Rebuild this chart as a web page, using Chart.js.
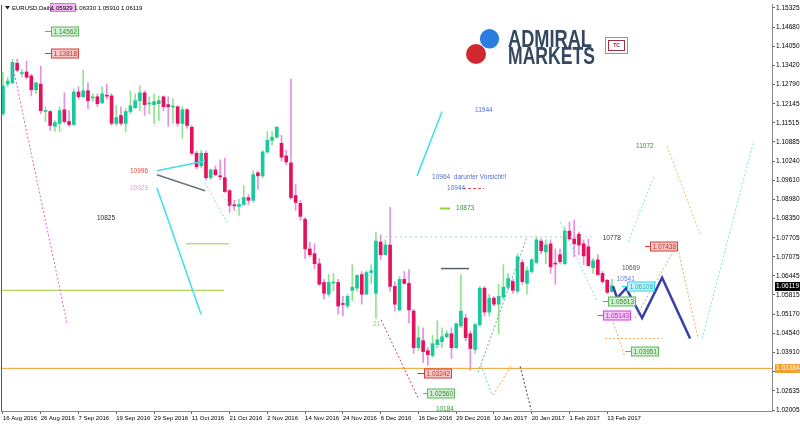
<!DOCTYPE html>
<html>
<head>
<meta charset="utf-8">
<script src="https://cdn.jsdelivr.net/npm/chart.js@4.4.1/dist/chart.umd.min.js"></script>
<style>
  html, body { margin: 0; padding: 0; background: #fff; }
  #c { display: block; }
</style>
</head>
<body>
<canvas id="c" width="800" height="426"></canvas>
<script>
// EURUSD daily, 16 Aug 2016 .. mid Feb 2017 (one entry per trading day)
const opens = [
  1.1182, 1.1280, 1.1284, 1.1349, 1.1315, 1.1320, 1.1307, 1.1261, 1.1280, 1.1189,
  1.1189, 1.1140, 1.1150, 1.1195, 1.1156, 1.1146, 1.1254, 1.1238, 1.1258, 1.1234,
  1.1238, 1.1218, 1.1242, 1.1241, 1.1150, 1.1176, 1.1150, 1.1189, 1.1202, 1.1225,
  1.1251, 1.1214, 1.1212, 1.1215, 1.1238, 1.1212, 1.1204, 1.1205, 1.1150, 1.1195,
  1.1137, 1.1051, 1.1009, 1.1051, 1.0970, 1.0996, 1.0975, 1.0970, 1.0927, 1.0879,
  1.0875, 1.0881, 1.0904, 1.0895, 1.0986, 1.0976, 1.1055, 1.1094, 1.1104, 1.1084,
  1.1042, 1.1019, 1.0911, 1.0885, 1.0832, 1.0734, 1.0718, 1.0685, 1.0623, 1.0584,
  1.0621, 1.0623, 1.0552, 1.0545, 1.0597, 1.0604, 1.0649, 1.0584, 1.0656, 1.0587,
  1.0757, 1.0715, 1.0747, 1.0610, 1.0532, 1.0633, 1.0620, 1.0528, 1.0407, 1.0430,
  1.0397, 1.0381, 1.0417, 1.0427, 1.0443, 1.0453, 1.0407, 1.0479, 1.0505, 1.0453,
  1.0401, 1.0483, 1.0604, 1.0525, 1.0571, 1.0551, 1.0574, 1.0607, 1.0626, 1.0594,
  1.0689, 1.0620, 1.0659, 1.0689, 1.0760, 1.0724, 1.0751, 1.0687, 1.0715, 1.0685,
  1.0793, 1.0767, 1.0783, 1.0751, 1.0741, 1.0672, 1.0698, 1.0653, 1.0630, 1.05929
];
const highs = [
  1.1320, 1.1303, 1.1362, 1.1362, 1.1329, 1.1356, 1.1313, 1.1287, 1.1339, 1.1205,
  1.1192, 1.1159, 1.1205, 1.1251, 1.1192, 1.1264, 1.1271, 1.1326, 1.1284, 1.1248,
  1.1248, 1.1271, 1.1280, 1.1248, 1.1208, 1.1205, 1.1199, 1.1258, 1.1248, 1.1274,
  1.1258, 1.1238, 1.1248, 1.1241, 1.1241, 1.1238, 1.1231, 1.1208, 1.1205, 1.1199,
  1.1143, 1.1058, 1.1061, 1.1058, 1.0999, 1.1009, 1.1029, 1.1035, 1.0931, 1.0895,
  1.0898, 1.0944, 1.0914, 1.0993, 1.0993, 1.1061, 1.1123, 1.1123, 1.1140, 1.1110,
  1.1061, 1.1297, 1.0947, 1.0895, 1.0839, 1.0757, 1.0751, 1.0702, 1.0633, 1.0649,
  1.0653, 1.0633, 1.0577, 1.0584, 1.0682, 1.0649, 1.0659, 1.0662, 1.0682, 1.0790,
  1.0780, 1.0764, 1.0872, 1.0626, 1.0643, 1.0659, 1.0666, 1.0535, 1.0479, 1.0473,
  1.0407, 1.0447, 1.0496, 1.0473, 1.0463, 1.0473, 1.0489, 1.0649, 1.0518, 1.0463,
  1.0489, 1.0610, 1.0610, 1.0584, 1.0577, 1.0617, 1.0682, 1.0653, 1.0633, 1.0718,
  1.0698, 1.0675, 1.0702, 1.0774, 1.0767, 1.0764, 1.0764, 1.0734, 1.0734, 1.0806,
  1.0823, 1.0829, 1.0790, 1.0764, 1.0767, 1.0702, 1.0715, 1.0659, 1.0633, 1.06330
];
const lows = [
  1.1176, 1.1271, 1.1280, 1.1320, 1.1303, 1.1297, 1.1241, 1.1248, 1.1182, 1.1156,
  1.1127, 1.1123, 1.1123, 1.1150, 1.1140, 1.1143, 1.1231, 1.1236, 1.1199, 1.1222,
  1.1205, 1.1215, 1.1231, 1.1143, 1.1143, 1.1143, 1.1123, 1.1182, 1.1199, 1.1192,
  1.1176, 1.1182, 1.1150, 1.1159, 1.1192, 1.1140, 1.1150, 1.1140, 1.1101, 1.1133,
  1.1045, 1.0999, 1.1002, 1.0963, 1.0963, 1.0976, 1.0963, 1.0921, 1.0855, 1.0862,
  1.0845, 1.0878, 1.0881, 1.0888, 1.0931, 1.0970, 1.1051, 1.1078, 1.1101, 1.1025,
  1.1012, 1.0898, 1.0862, 1.0829, 1.0702, 1.0708, 1.0669, 1.0614, 1.0568, 1.0577,
  1.0594, 1.0518, 1.0512, 1.0538, 1.0561, 1.0594, 1.0551, 1.0584, 1.0620, 1.0505,
  1.0698, 1.0715, 1.0594, 1.0528, 1.0528, 1.0617, 1.0489, 1.0388, 1.0397, 1.0358,
  1.0348, 1.0375, 1.0407, 1.0407, 1.0440, 1.0371, 1.0404, 1.0473, 1.0430, 1.0332,
  1.0388, 1.0479, 1.0512, 1.0512, 1.0545, 1.0453, 1.0568, 1.0600, 1.0587, 1.0587,
  1.0617, 1.0584, 1.0653, 1.0685, 1.0718, 1.0685, 1.0653, 1.0617, 1.0685, 1.0682,
  1.0764, 1.0708, 1.0715, 1.0682, 1.0675, 1.0653, 1.0647, 1.0620, 1.0587, 1.05910
];
const closes = [
  1.1274, 1.1290, 1.1352, 1.1326, 1.1317, 1.1303, 1.1261, 1.1284, 1.1192, 1.1191,
  1.1143, 1.1153, 1.1192, 1.1156, 1.1146, 1.1254, 1.1238, 1.1258, 1.1225, 1.1236,
  1.1215, 1.1248, 1.1240, 1.1150, 1.1169, 1.1150, 1.1189, 1.1208, 1.1225, 1.1251,
  1.1212, 1.1216, 1.1222, 1.1225, 1.1205, 1.1205, 1.1206, 1.1150, 1.1195, 1.1143,
  1.1051, 1.1006, 1.1051, 1.0970, 1.0996, 1.0980, 1.0973, 1.0924, 1.0878, 1.0877,
  1.0881, 1.0904, 1.0895, 1.0980, 1.0976, 1.1055, 1.1094, 1.1104, 1.1137, 1.1038,
  1.1022, 1.0904, 1.0888, 1.0842, 1.0734, 1.0715, 1.0685, 1.0617, 1.0587, 1.0623,
  1.0623, 1.0545, 1.0550, 1.0577, 1.0607, 1.0646, 1.0584, 1.0656, 1.0662, 1.0760,
  1.0715, 1.0747, 1.0610, 1.0551, 1.0633, 1.0620, 1.0532, 1.0407, 1.0440, 1.0394,
  1.0384, 1.0420, 1.0433, 1.0443, 1.0453, 1.0407, 1.0486, 1.0528, 1.0440, 1.0404,
  1.0483, 1.0604, 1.0525, 1.0571, 1.0551, 1.0577, 1.0607, 1.0636, 1.0597, 1.0708,
  1.0626, 1.0662, 1.0698, 1.0764, 1.0728, 1.0747, 1.0675, 1.0684, 1.0692, 1.0793,
  1.0767, 1.0751, 1.0747, 1.0711, 1.0679, 1.0695, 1.0649, 1.0626, 1.0590, 1.06119
];

// time axis labels, one every 8 bars
const dateLabels = [
  '16 Aug 2016', '26 Aug 2016', '7 Sep 2016', '19 Sep 2016', '29 Sep 2016', '11 Oct 2016',
  '21 Oct 2016', '2 Nov 2016', '14 Nov 2016', '24 Nov 2016', '6 Dec 2016', '16 Dec 2016',
  '29 Dec 2016', '10 Jan 2017', '20 Jan 2017', '1 Feb 2017', '13 Feb 2017'
];
const priceTicks = [
  1.15325, 1.14680, 1.14050, 1.13420, 1.12790, 1.12145, 1.11515, 1.10885, 1.10240, 1.09610, 1.08980,
  1.08350, 1.07705, 1.07075, 1.06445, 1.05815, 1.05170, 1.04540, 1.03910, 1.03280, 1.02635, 1.02005
];
const lastPrice = 1.06119;
const supportLine = 1.03384;

// drawn objects: [bar index, price] vertices
const trendPts = [
  [[1.91, 1.1352], [13.56, 1.0489]],
  [[32.6, 1.0993], [42.8, 1.1025]],
  [[32.6, 1.0980], [42.8, 1.0927]],
  [[32.6, 1.0937], [41.95, 1.0518]],
  [[38.77, 1.0751], [47.89, 1.0751]],
  [[-0.42, 1.0597], [46.83, 1.0597]],
  [[42.8, 1.0953], [47.67, 1.0816]],
  [[46.4, 1.0911], [50.4, 1.0842]],
  [[87.72, 1.0976], [93.01, 1.1189]],
  [[79.88, 1.0774], [124.8, 1.0774]],
  [[92.8, 1.0669], [98.73, 1.0669]],
  [[80.09, 1.0499], [87.93, 1.0241]],
  [[109.54, 1.0345], [111.87, 1.0201]],
  [[101.27, 1.0348], [103.61, 1.0250]],
  [[103.82, 1.0250], [107.84, 1.0352]],
  [[100.64, 1.0326], [111.02, 1.0774]],
  [[118.01, 1.0823], [125.85, 1.0561]],
  [[132.42, 1.0757], [137.93, 1.0976]],
  [[148.1, 1.0437], [158.9, 1.1084]],
  [[140.68, 1.1074], [147.67, 1.0783]],
  [[133.9, 1.0505], [142.8, 1.0747], [147.25, 1.0437]],
  [[127.55, 1.0437], [139.62, 1.0437]],
  [[129.03, 1.0502], [131.78, 1.0375]],
  [[129.24, 1.0610], [130.09, 1.0571], [132.0, 1.0604], [135.38, 1.0505], [139.62, 1.0639], [145.55, 1.0437]],
  [[92.59, 1.0868], [94.7, 1.0868]],
  [[97.46, 1.0934], [101.9, 1.0934]],
  [[-0.42, supportLine], [162.9, supportLine]]
];
// style per trend object: colour, line width, dash
const trendStyle = [
  ['#d862d8', 1, [2, 2]],
  ['#3fe0ee', 1.5, []],
  ['#6c7480', 1.5, []],
  ['#3fe0ee', 1.5, []],
  ['#9acd32', 1, []],
  ['#9acd32', 1, []],
  ['#7fdfea', 1, [2, 2]],
  ['#7fdfea', 1, [2, 2]],
  ['#3fe0ee', 1.5, []],
  ['#9fcfcf', 1, [2, 3]],
  ['#5a6068', 1.5, []],
  ['#cc4454', 1, [2, 2]],
  ['#3c3c6c', 1, [2, 2]],
  ['#5fd8e8', 1, [2, 2]],
  ['#f0a050', 1, [2, 2]],
  ['#6aa8a0', 1, [2, 2]],
  ['#7fdfea', 1, [2, 2]],
  ['#7fdfea', 1, [2, 2]],
  ['#7fdfea', 1, [2, 2]],
  ['#e8c070', 1, [2, 2]],
  ['#f0a858', 1, [2, 2]],
  ['#f0a858', 1, [2, 2]],
  ['#f0a858', 1, [2, 2]],
  ['#3a3ea8', 2.5, []],
  ['#9acd32', 2, []],
  ['#e04848', 1, [3, 2]],
  ['#f0a030', 1, []]
];

// text notes: text, bar index (left edge), price, colour
const notes = [
  ['10996', 26.9, 1.0993, '#e8453c'],
  ['10929', 26.9, 1.0934, '#d9a0d9'],
  ['10825', 19.9, 1.0836, '#222222'],
  ['11944', 100.0, 1.1195, '#4f6fd8'],
  ['10964  darunter Vorsicht!!', 90.9, 1.0973, '#4f6fd8'],
  ['10944', 94.07, 1.0934, '#4f6fd8'],
  ['10873', 95.97, 1.0868, '#3a8a3a'],
  ['11072', 134.1, 1.1074, '#3a8a3a'],
  ['10778', 127.05, 1.0770, '#333333'],
  ['10669', 131.1, 1.0669, '#555555'],
  ['10541', 130.0, 1.0635, '#6a78d0'],
  ['10184', 91.7, 1.0203, '#3a9a3a'],
  ['21', 78.4, 1.0486, '#9ad07a']
];
// price tags: text (= price), stem start index, box index, palette
const priceTags = [
  ['1.14562', 8.9, 10.1, 'green'],
  ['1.13818', 8.9, 10.1, 'red'],
  ['1.03242', 87.78, 89.26, 'red'],
  ['1.02560', 89.05, 89.9, 'green'],
  ['1.07438', 136.02, 137.08, 'red'],
  ['1.06108', 131.08, 132.27, 'cyan'],
  ['1.05613', 127.06, 128.25, 'green'],
  ['1.05143', 125.92, 127.19, 'magenta'],
  ['1.03951', 131.78, 133.0, 'green']
];
const tagPalette = {
  green: ['#5cb85c', '#d4f0d4', '#3c8c3c'],
  red: ['#d43f3a', '#f6c9c8', '#c2312c'],
  cyan: ['#2fd3e6', '#c9f4f9', '#1aa7b8'],
  magenta: ['#d63fd6', '#f6c6f6', '#b52ab5']
};

const FAMILY = '"Liberation Sans", Arial, sans-serif';
const idx = opens.map((_, i) => i);
const up = idx.map(i => closes[i] >= opens[i]);
const tickIdx = dateLabels.map((_, i) => i * 8);

function drawTag(ctx, x, y, t) {
  const [text, i0, i1, pal] = t;
  const [line, fill, ink] = tagPalette[pal];
  const sx = x.getPixelForValue(i0), px = Math.round(x.getPixelForValue(i1)) + 0.5;
  const py = Math.round(y.getPixelForValue(Number(text))) + 0.5;
  ctx.font = '6.5px ' + FAMILY;
  const w = Math.round(ctx.measureText(text).width) + 4;
  ctx.strokeStyle = line;
  ctx.lineWidth = 1;
  ctx.beginPath();
  ctx.moveTo(sx, py);
  ctx.lineTo(px, py);
  ctx.stroke();
  ctx.fillStyle = fill;
  ctx.fillRect(px, py - 4.5, w, 9);
  ctx.strokeRect(px, py - 4.5, w, 9);
  ctx.fillStyle = ink;
  ctx.fillText(text, px + 2, py + 0.5);
}

function axisBox(ctx, area, y, price, bg) {
  const py = Math.round(y.getPixelForValue(price));
  ctx.fillStyle = bg;
  ctx.fillRect(area.right + 3, py - 4, 28, 9);
  ctx.fillStyle = '#ffffff';
  ctx.font = '6.5px ' + FAMILY;
  ctx.fillText(price.toFixed(5), area.right + 4, py + 0.5);
}

const overlay = {
  id: 'overlay',
  afterDatasetsDraw(chart) {
    const { ctx, scales: { x, y } } = chart;
    ctx.save();
    ctx.textBaseline = 'middle';
    ctx.textAlign = 'left';
    ctx.font = '6.5px ' + FAMILY;
    notes.forEach(([text, i, p, color]) => {
      ctx.fillStyle = color;
      ctx.fillText(text, x.getPixelForValue(i), y.getPixelForValue(p));
    });
    priceTags.forEach(t => drawTag(ctx, x, y, t));
    ctx.restore();
  },
  afterDraw(chart) {
    const { ctx, chartArea: a, scales: { y } } = chart;
    ctx.save();
    // left frame line
    ctx.strokeStyle = '#555';
    ctx.lineWidth = 1;
    ctx.beginPath();
    ctx.moveTo(a.left + 0.5, a.top);
    ctx.lineTo(a.left + 0.5, a.bottom);
    ctx.stroke();
    ctx.textBaseline = 'middle';
    axisBox(ctx, a, y, lastPrice, '#000000');
    axisBox(ctx, a, y, supportLine, '#f0a030');

    // header
    ctx.fillStyle = '#222';
    ctx.beginPath();
    ctx.moveTo(5, 6); ctx.lineTo(10, 6); ctx.lineTo(7.5, 9.5); ctx.closePath();
    ctx.fill();
    ctx.fillStyle = '#f2b8f2';
    ctx.fillRect(50, 3, 26, 9);
    ctx.strokeStyle = '#e070e0';
    ctx.strokeRect(50.5, 3.5, 25, 8);
    ctx.fillStyle = '#000';
    ctx.font = '6px ' + FAMILY;
    ctx.fillText('EURUSD,Daily', 12, 8);
    ctx.fillText([opens.at(-1), highs.at(-1), lows.at(-1), closes.at(-1)].map(v => v.toFixed(5)).join(' '), 51, 8);

    // broker logo
    ctx.fillStyle = '#2a7de1';
    ctx.beginPath(); ctx.arc(489.5, 38.8, 9.7, 0, Math.PI * 2); ctx.fill();
    ctx.fillStyle = '#d0282e';
    ctx.beginPath(); ctx.arc(476, 54, 10, 0, Math.PI * 2); ctx.fill();
    ctx.fillStyle = '#34475f';
    ctx.textBaseline = 'alphabetic';
    ctx.font = 'bold 23px ' + FAMILY;
    ctx.fillText('ADMIRAL', 508, 46.7, 84);
    ctx.fillText('MARKETS', 508, 63.5, 87);
    ctx.strokeStyle = '#8c8cd0';
    ctx.strokeRect(605.5, 37.5, 22, 16);
    ctx.strokeStyle = '#a03040';
    ctx.strokeRect(608.5, 40.5, 16, 10);
    ctx.fillStyle = '#802030';
    ctx.font = 'bold 5px ' + FAMILY;
    ctx.textAlign = 'center';
    ctx.textBaseline = 'middle';
    ctx.fillText('TC', 616.5, 45.8);
    ctx.restore();
  }
};

const datasets = [
  {
    type: 'bar',
    data: idx.map(i => ({ x: i, y: [lows[i], highs[i]] })),
    backgroundColor: up.map(u => u ? '#8fe38f' : '#e58fe5'),
    barThickness: 1, maxBarThickness: 1, grouped: false, order: 3
  },
  {
    type: 'bar',
    data: idx.map(i => ({ x: i, y: [opens[i], closes[i]] })),
    backgroundColor: up.map(u => u ? '#17c99b' : '#e5115a'),
    barThickness: 3, maxBarThickness: 3, minBarLength: 1, grouped: false, order: 2
  }
].concat(trendPts.map((pts, k) => ({
  type: 'line',
  data: pts.map(([i, p]) => ({ x: i, y: p })),
  borderColor: trendStyle[k][0],
  borderWidth: trendStyle[k][1],
  borderDash: trendStyle[k][2],
  pointRadius: 0,
  fill: false,
  tension: 0,
  order: 1
})));

new Chart(document.getElementById('c'), {
  type: 'bar',
  data: { datasets },
  options: {
    responsive: false,
    animation: false,
    events: [],
    layout: { padding: { left: 1, top: 0, right: 0, bottom: 0 } },
    plugins: { legend: { display: false }, tooltip: { enabled: false } },
    scales: {
      x: {
        type: 'linear',
        min: -0.42,
        max: 162.9,
        offset: false,
        afterBuildTicks: s => { s.ticks = tickIdx.map(v => ({ value: v })); },
        afterFit: s => { s.height = 15; },
        grid: { display: true, drawOnChartArea: false, drawTicks: true, tickLength: 3, color: '#666', offset: false },
        border: { display: true, color: '#888' },
        ticks: {
          autoSkip: false, maxRotation: 0, align: 'start', padding: 1,
          color: '#000', font: { family: FAMILY, size: 6 },
          callback: (v, i) => dateLabels[i]
        }
      },
      y: {
        type: 'linear',
        position: 'right',
        min: 1.01972,
        max: 1.15423,
        afterBuildTicks: s => { s.ticks = priceTicks.map(v => ({ value: v })); },
        afterFit: s => { s.width = 28; },
        grid: { display: true, drawOnChartArea: false, drawTicks: true, tickLength: 3, color: '#666' },
        border: { display: true, color: '#888' },
        ticks: {
          autoSkip: false, padding: 1,
          color: '#000', font: { family: FAMILY, size: 6.5 },
          callback: v => v.toFixed(5)
        }
      }
    }
  },
  plugins: [overlay]
});
</script>
</body>
</html>
